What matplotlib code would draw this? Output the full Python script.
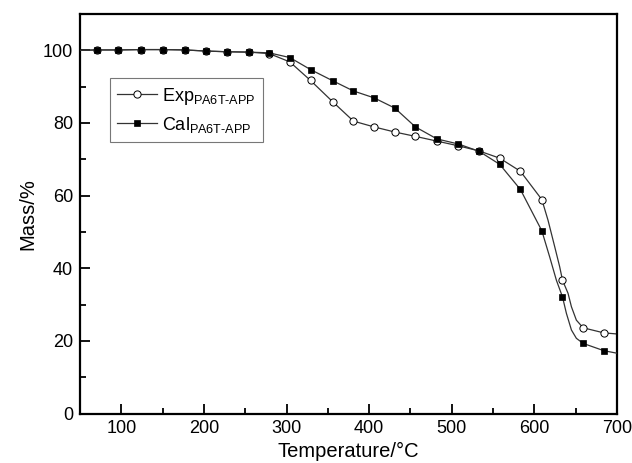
import matplotlib
matplotlib.use("Agg")
import matplotlib.pyplot as plt
from matplotlib.ticker import MultipleLocator

plt.rcParams["font.family"] = ["Liberation Sans", "DejaVu Sans"]
plt.rcParams["mathtext.fontset"] = "custom"
plt.rcParams["mathtext.rm"] = "Liberation Sans"
plt.rcParams["mathtext.it"] = "Liberation Sans:italic"

# TGA curves (temperature in °C, residual mass in %)
exp_temp = [50, 70, 96, 124, 151, 177, 202, 228, 254, 279, 304, 329, 356, 381,
            406, 431, 456, 482, 508, 533, 558, 583, 609, 616.5, 624.6, 630.6,
            634, 640.7, 644.8, 650.8, 659, 684, 700]
exp_mass = [100.0, 100.1, 100.1, 100.2, 100.2, 100.1, 99.8, 99.6, 99.5, 99.1,
            96.8, 91.7, 85.8, 80.5, 78.9, 77.5, 76.3, 75.0, 73.7, 72.3, 70.3,
            66.7, 58.9, 53.2, 45.9, 40.4, 36.7, 33.1, 29.4, 25.7, 23.6, 22.2,
            21.9]
exp_marks = [1, 2, 3, 4, 5, 6, 7, 8, 9, 10, 11, 12, 13, 14, 15, 16, 17, 18, 19,
             20, 21, 22, 26, 30, 31]

cal_temp = [50, 70, 96, 124, 151, 177, 202, 228, 254, 279, 304, 329, 356, 381,
            406, 431, 456, 482, 508, 533, 558, 583, 609, 618.5, 626.6, 634,
            638.7, 644.8, 650.8, 659, 684, 700]
cal_mass = [100.0, 100.1, 100.1, 100.2, 100.2, 100.1, 99.8, 99.6, 99.5, 99.3,
            98.0, 94.7, 91.6, 88.8, 86.9, 84.1, 78.9, 75.6, 74.2, 72.2, 68.6,
            61.7, 50.3, 43.1, 36.7, 32.1, 27.6, 23.0, 20.7, 19.3, 17.3, 16.6]
cal_marks = [1, 2, 3, 4, 5, 6, 7, 8, 9, 10, 11, 12, 13, 14, 15, 16, 17, 18, 19,
             20, 21, 22, 25, 29, 30]

x_ticks = [100, 200, 300, 400, 500, 600, 700]
y_ticks = [0, 20, 40, 60, 80, 100]

fig = plt.figure(figsize=(6.32, 4.63), dpi=100)
ax = fig.add_axes([0.1266, 0.1069, 0.8497, 0.8629])

line_color = "#333333"
ax.plot(exp_temp, exp_mass, color=line_color, lw=0.9, marker="o",
        markevery=exp_marks, markersize=5.2, markerfacecolor="white",
        markeredgecolor="black", markeredgewidth=0.7,
        label=r"Exp$_{\rm PA6T\text{-}APP}$", zorder=2)
ax.plot(cal_temp, cal_mass, color=line_color, lw=0.9, marker="s",
        markevery=cal_marks, markersize=4.6, markerfacecolor="black",
        markeredgecolor="black", markeredgewidth=0.5,
        label=r"Cal$_{\rm PA6T\text{-}APP}$", zorder=3)

ax.set_xlim(50, 700)
ax.set_ylim(0, 110)
ax.set_xticks(x_ticks)
ax.set_yticks(y_ticks)
ax.xaxis.set_minor_locator(MultipleLocator(50))
ax.yaxis.set_minor_locator(MultipleLocator(10))
ax.tick_params(which="both", direction="in", top=False, right=False,
               labelsize=13, width=1.3, pad=5)
ax.tick_params(which="major", length=7)
ax.tick_params(which="minor", length=4)
for sp in ax.spines.values():
    sp.set_linewidth(1.6)

ax.set_xlabel("Temperature/°C", fontsize=14.5, labelpad=3)
ax.set_ylabel("Mass/%", fontsize=14.5, labelpad=4)

leg = ax.legend(loc="upper left", bbox_to_anchor=(0.056, 0.839),
                borderaxespad=0, fontsize=13, frameon=True, fancybox=False,
                handlelength=2.2, handletextpad=0.3, labelspacing=0.45,
                borderpad=0.4)
leg.get_frame().set_edgecolor("#555555")
leg.get_frame().set_linewidth(0.8)

fig.savefig("out.png", dpi=100)
